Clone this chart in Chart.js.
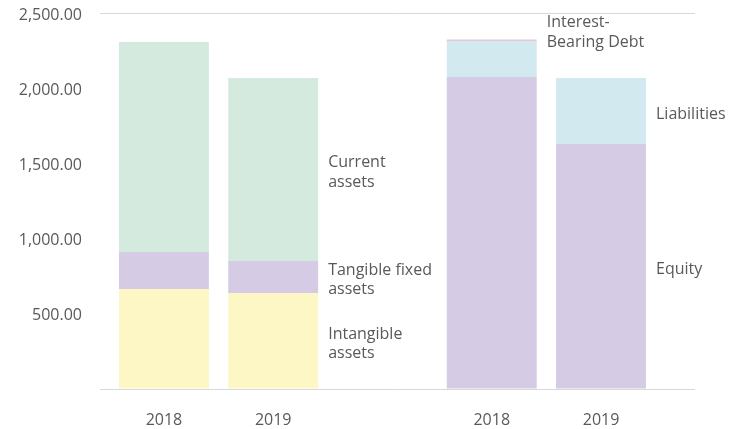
<!DOCTYPE html>
<html lang="en">
<head>
    <meta charset="UTF-8">
    <title>Assets vs. liabilities and equity</title>
    <style>
        html, body { margin: 0; padding: 0; background: #fff; }
        .chart-container { width: 730px; height: 429px; }
    </style>
</head>
<body>

    <div class="chart-container">
        <canvas id="balanceChart"></canvas>
    </div>

    <script src="https://cdn.jsdelivr.net/npm/chart.js@4/dist/chart.umd.min.js"></script>

    <script>
        // Slots on the x axis: two asset bars, a gap, two funding bars
        const slotPositions = [0, 1, 3, 4];
        const slotLabels = ['2018', '2019', '2018', '2019'];

        // Asset side (slots 0 and 1)
        const intangibleAssets = [665, 638];
        const tangibleFixedAssets = [246, 213];
        const currentAssets = [1396, 1217];

        // Funding side (slots 3 and 4)
        const equity = [2074, 1629];
        const liabilities = [240, 439];
        const interestBearingDebt = [10, 0];

        const yTicks = [0, 500, 1000, 1500, 2000, 2500];

        const textColor = '#595959';
        const fontFamily = "'Open Sans', 'Noto Sans', sans-serif";

        // Values for one side of the chart, mapped onto its slots
        function points(values, slots) {
            return values.map((v, i) => ({ x: slots[i], y: v }));
        }

        const assetSlots = slotPositions.slice(0, 2);
        const fundingSlots = slotPositions.slice(2, 4);

        // Writes the name of each segment to the right of a bar
        const notesPlugin = {
            id: 'notes',
            afterDatasetsDraw(chart) {
                const ctx = chart.ctx;
                ctx.save();
                ctx.fillStyle = textColor;
                ctx.font = '16px ' + fontFamily;
                ctx.textAlign = 'left';
                ctx.textBaseline = 'middle';
                chart.data.datasets.forEach((ds, i) => {
                    if (!ds.note) return;
                    const bar = chart.getDatasetMeta(i).data[ds.noteAt];
                    const x = bar.x + bar.width / 2 + 10;
                    const mid = (bar.y + bar.base) / 2 + 3 + (ds.noteShift || 0);
                    const lineH = 19.5;
                    const top = mid - (ds.note.length - 1) * lineH / 2;
                    ds.note.forEach((line, k) => ctx.fillText(line, x, top + k * lineH));
                });
                ctx.restore();
            }
        };

        new Chart(document.getElementById('balanceChart'), {
            type: 'bar',
            data: {
                datasets: [
                    { label: 'Intangible assets', data: points(intangibleAssets, assetSlots),
                      backgroundColor: '#fdf7c6', note: ['Intangible', 'assets'], noteAt: 1 },
                    { label: 'Tangible fixed assets', data: points(tangibleFixedAssets, assetSlots),
                      backgroundColor: '#d6cbe4', note: ['Tangible fixed', 'assets'], noteAt: 1 },
                    { label: 'Current assets', data: points(currentAssets, assetSlots),
                      backgroundColor: '#d5eade', note: ['Current', 'assets'], noteAt: 1 },
                    { label: 'Equity', data: points(equity, fundingSlots),
                      backgroundColor: '#d6cbe4', note: ['Equity'], noteAt: 1 },
                    { label: 'Liabilities', data: points(liabilities, fundingSlots),
                      backgroundColor: '#d3e9f0', note: ['Liabilities'], noteAt: 1 },
                    { label: 'Interest-Bearing Debt', data: points(interestBearingDebt, fundingSlots),
                      backgroundColor: '#ecc3d4', note: ['Interest-', 'Bearing Debt'], noteAt: 0, noteShift: -11 }
                ]
            },
            options: {
                responsive: true,
                maintainAspectRatio: false,
                animation: false,
                layout: { padding: { top: 13, right: 35, left: 0, bottom: 0 } },
                categoryPercentage: 1,
                barPercentage: 0.823,
                plugins: {
                    legend: { display: false },
                    tooltip: { enabled: false }
                },
                scales: {
                    x: {
                        type: 'linear',
                        stacked: true,
                        offset: false,
                        min: -0.585,
                        max: 4.86,
                        grid: { display: false },
                        border: { display: false },
                        afterBuildTicks: scale => {
                            scale.ticks = slotPositions.map(v => ({ value: v }));
                        },
                        afterFit: scale => { scale.height = 40; },
                        ticks: {
                            autoSkip: false,
                            maxRotation: 0,
                            padding: 14,
                            color: textColor,
                            font: { family: fontFamily, size: 16 },
                            callback: value => slotLabels[slotPositions.indexOf(value)]
                        }
                    },
                    y: {
                        stacked: true,
                        min: 0,
                        max: 2500,
                        afterBuildTicks: scale => {
                            scale.ticks = yTicks.map(v => ({ value: v }));
                        },
                        afterFit: scale => {
                            scale.width = 100;
                            scale.paddingTop = 0;
                            scale.paddingBottom = 0;
                        },
                        grid: {
                            drawTicks: false,
                            color: ctx => (ctx.tick.value === 0 || ctx.tick.value === 2500) ? '#d9d9d9' : 'transparent'
                        },
                        border: { display: false },
                        ticks: {
                            padding: 18,
                            labelOffset: 2,
                            color: textColor,
                            font: { family: fontFamily, size: 16 },
                            callback: value => value === 0 ? '' : value.toLocaleString('en-US', { minimumFractionDigits: 2, maximumFractionDigits: 2 })
                        }
                    }
                }
            },
            plugins: [notesPlugin]
        });
    </script>
</body>
</html>
